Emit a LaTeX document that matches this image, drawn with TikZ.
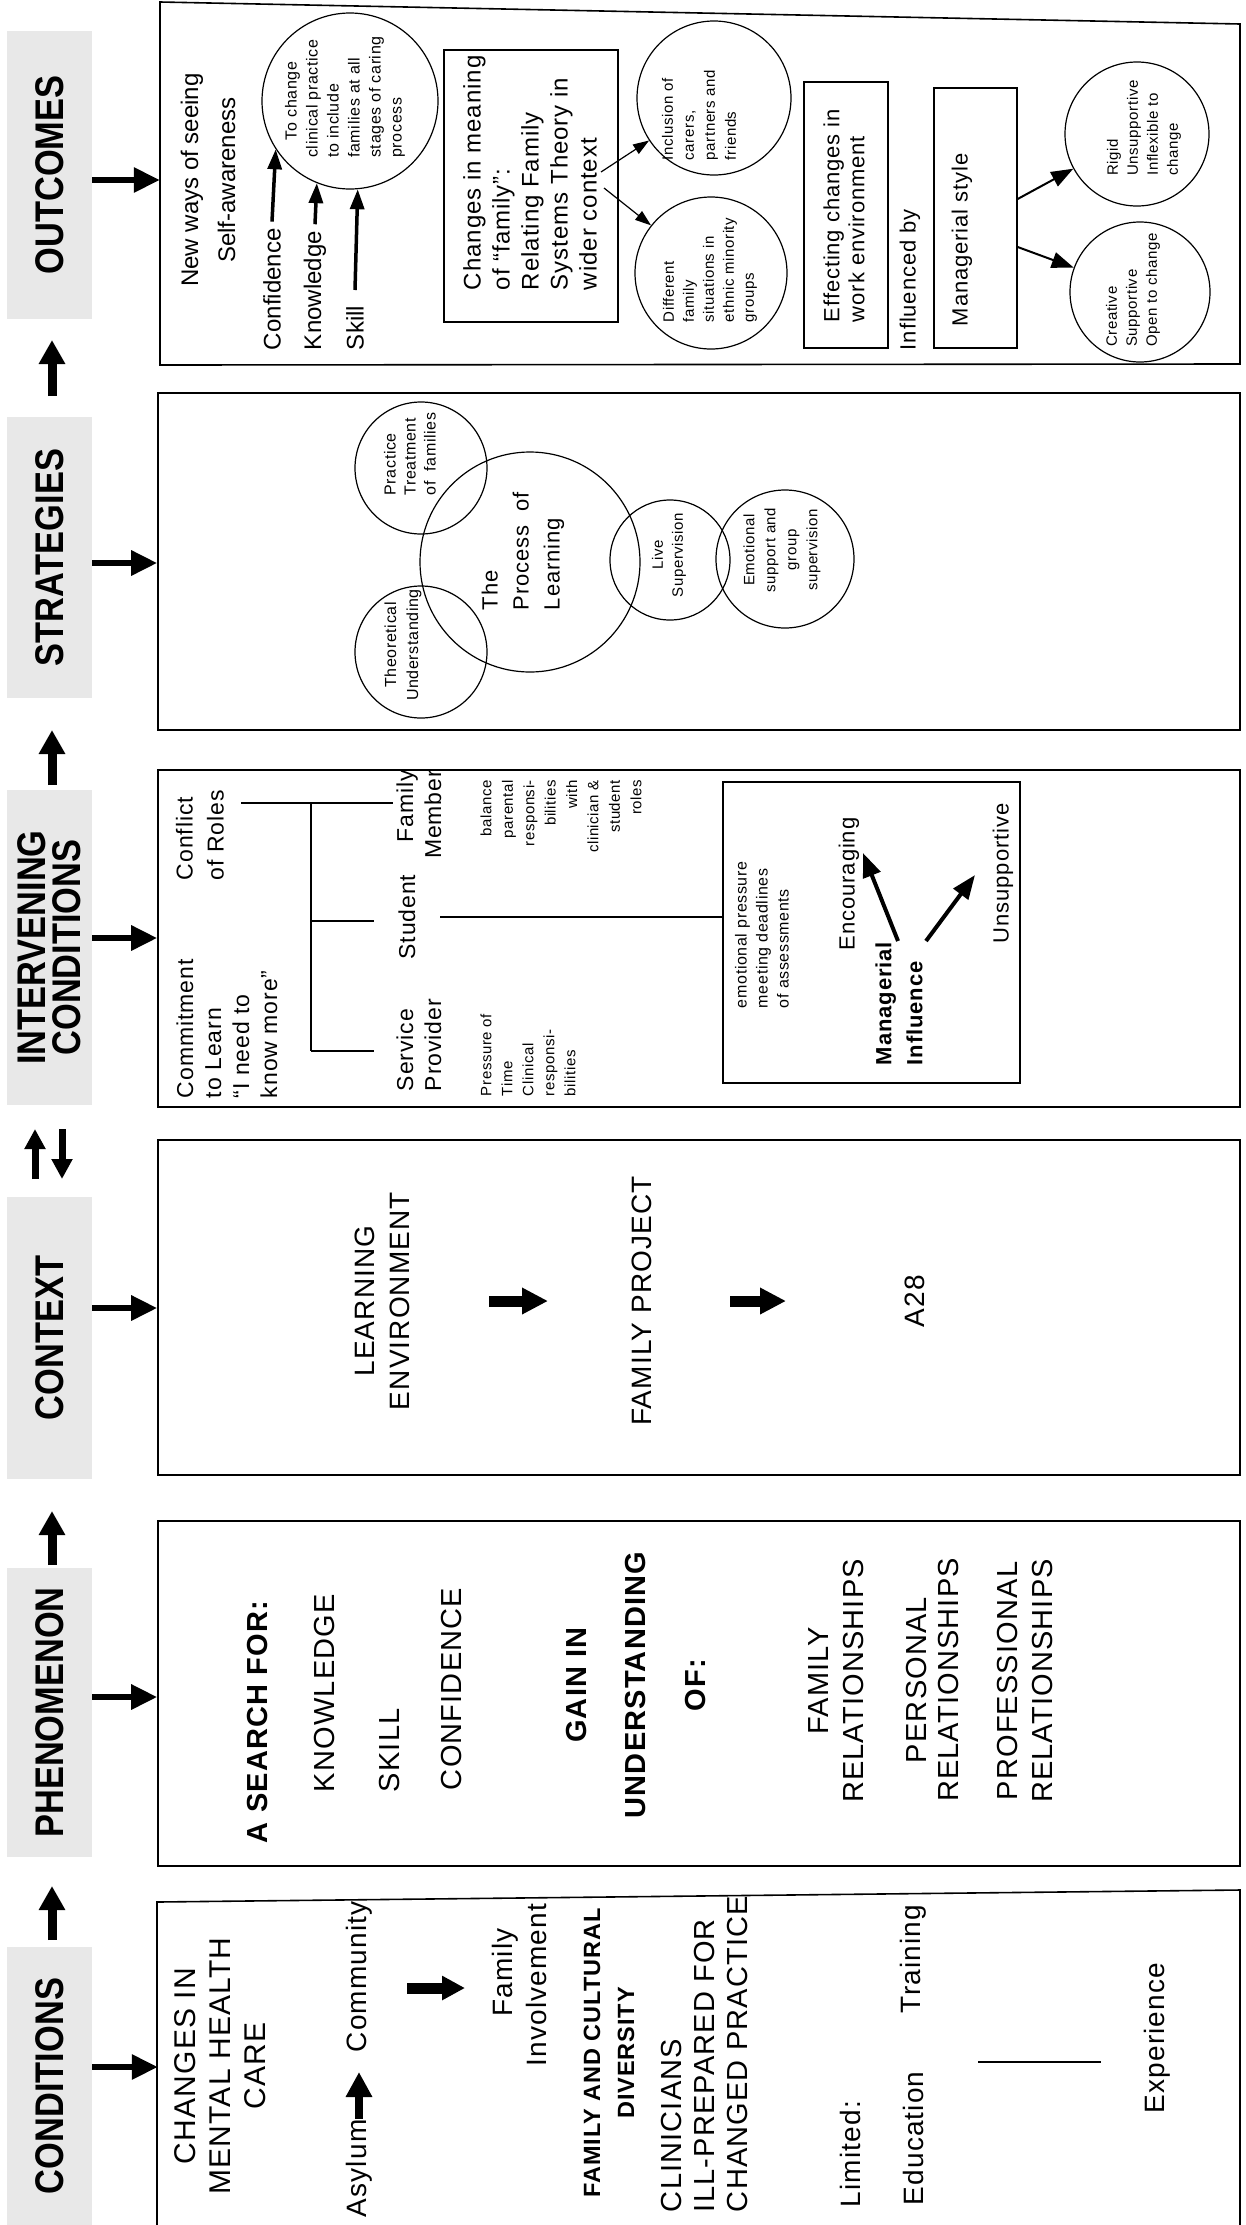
\documentclass[tikz,border=0pt]{standalone}
\usepackage{fontspec}
\setmainfont{Liberation Sans}
\newfontfamily\hdfont[FakeStretch=0.86]{Liberation Sans}
\newfontfamily\wdfont[LetterSpace=4]{Liberation Sans}
\usetikzlibrary{arrows.meta,shapes.geometric}
\newcommand\fsz[2]{\fontsize{#1pt}{#2pt}\selectfont}
\definecolor{bandgray}{gray}{0.91}
\tikzset{
  tx/.style={rotate=90, inner sep=0pt, outer sep=0pt},
  lab/.style={rotate=90, fill=bandgray, inner sep=0pt, minimum height=85pt, align=center, font={\hdfont\bfseries\fsz{40}{35}}},
  bx/.style={draw, line width=1.6pt, inner sep=0pt},
  hid/.style={draw=none, inner sep=0pt},
  ibx/.style={draw, line width=1.3pt, inner sep=0pt},
  circ/.style={circle, draw, line width=1.2pt, inner sep=0pt},
  uparr/.style={line width=9pt, -{Triangle[length=24pt,width=25pt]}},
  rarr/.style={line width=6pt, -{Triangle[length=26pt,width=24pt]}},
  karr/.style={line width=3.5pt, -{Triangle[length=20pt,width=14pt]}},
  aarr/.style={line width=8pt, -{Triangle[length=25pt,width=25pt]}},
  sarr/.style={line width=1.2pt, -{Triangle[length=16pt,width=11pt]}},
  marr/.style={line width=2pt, -{Triangle[length=22pt,width=16pt]}},
  barr/.style={line width=4pt, -{Triangle[length=24pt,width=18pt]}},
  blk/.style={line width=11pt, -{Triangle[length=26pt,width=25pt]}},
  ln/.style={line width=1.5pt},
  caps/.style={font={\wdfont\fsz{28}{35}}},
}
\begin{document}
\begin{tikzpicture}[x=1pt,y=-1pt]
\useasboundingbox (0,0) rectangle (1246,2225);
\fill[white] (0,0) rectangle (1246,2225);

% ---------------- header column ----------------
\node[lab, minimum width=288pt] (hout) at (49.5,175) {OUTCOMES};
\node[lab, minimum width=281pt] (hstr) at (49.5,557.5) {STRATEGIES};
\node[lab, minimum width=315pt] (hint) at (49.5,947.5) {INTERVENING\\CONDITIONS};
\node[lab, minimum width=282pt] (hctx) at (49.5,1338) {CONTEXT};
\node[lab, minimum width=289pt] (hphe) at (49.5,1712.5) {PHENOMENON};
\node[lab, minimum width=278pt] (hcon) at (49.5,2086) {CONDITIONS};

\coordinate (u1s) at (52,396);  \coordinate (u1e) at (52,340);
\coordinate (u2s) at (52,785);  \coordinate (u2e) at (52,730);
\coordinate (d1s) at (35,1179); \coordinate (d1e) at (35,1129);
\coordinate (d2s) at (62,1129); \coordinate (d2e) at (62,1179);
\coordinate (u3s) at (52,1565); \coordinate (u3e) at (52,1511);
\coordinate (u4s) at (52,1940); \coordinate (u4e) at (52,1886);
\draw[uparr] (u1s) -- (u1e);
\draw[uparr] (u2s) -- (u2e);
\draw[line width=7pt, -{Triangle[length=20pt,width=20pt]}] (d1s) -- (d1e);
\draw[line width=7pt, -{Triangle[length=20pt,width=20pt]}] (d2s) -- (d2e);
\draw[uparr] (u3s) -- (u3e);
\draw[uparr] (u4s) -- (u4e);

% ---------------- boxes ----------------
\node[hid, minimum width=1080pt, minimum height=361pt] (ob) at (700,184.5) {};
\draw[bx] (160,2) -- (1240,24) -- (1240,364) -- (160,365) -- cycle;
\node[bx, minimum width=1082pt, minimum height=337pt] (sb) at (699,561.5) {};
\node[bx, minimum width=1082pt, minimum height=337pt] (ib) at (699,938.5) {};
\node[bx, minimum width=1082pt, minimum height=335pt] (cb) at (699,1307.5) {};
\node[bx, minimum width=1082pt, minimum height=345pt] (pb) at (699,1693.5) {};
\node[hid, minimum width=1082pt, minimum height=340pt] (kb) at (699,2070) {};
\draw[bx] (157,2240) -- (157,1902) -- (1240,1890) -- (1240,2240);

\coordinate (r1) at (92,180);  \coordinate (r2) at (92,563);
\coordinate (r3) at (92,938);  \coordinate (r4) at (92,1308);
\coordinate (r5) at (92,1697); \coordinate (r6) at (92,2067);
\draw[rarr] (r1) -- (r1 -| ob.west);
\draw[rarr] (r2) -- (r2 -| sb.west);
\draw[rarr] (r3) -- (r3 -| ib.west);
\draw[rarr] (r4) -- (r4 -| cb.west);
\draw[rarr] (r5) -- (r5 -| pb.west);
\draw[rarr] (r6) -- (r6 -| kb.west);

% ---------------- OUTCOMES ----------------
\node[tx, font={\fsz{24}{37}}, align=center] (nw) at (208,180) {New ways of seeing\\Self-awareness};
\node[tx, font={\fsz{24}{28}}, anchor=west] (conf) at (272,350) {Confidence};
\node[tx, font={\fsz{24}{28}}, anchor=west] (know) at (315,350) {Knowledge};
\node[tx, font={\fsz{24}{28}}, anchor=west] (skill) at (355,350) {Skill};
\node[circ, minimum size=176pt] (c1) at (350,101) {};
\node[tx, font={\wdfont\fsz{16}{21}}, align=left] (c1t) at (345,97) {\hspace*{1.1em}To change\\clinical practice\\to include\\families at all\\stages of caring\\process};
\draw[karr] ([yshift=7pt]conf.east) -- (c1.213);
\draw[karr] ([yshift=7pt]know.east) -- (c1.248);
\draw[karr] ([yshift=16pt]skill.east) -- (c1.275);

\node[ibx, minimum width=174pt, minimum height=272pt] (chb) at (531,186) {};
\node[tx, font={\wdfont\fsz{24}{29}}, align=left, anchor=west] (cht) at (530,290) {Changes in meaning\\of “family”:\\Relating Family\\Systems Theory in\\wider context};
\node[circ, minimum size=154pt] (incl) at (714,98) {};
\node[tx, font={\wdfont\fsz{15}{21}}, align=left] (inclt) at (699,115) {Inclusion of\\carers,\\partners and\\friends};
\node[circ, minimum size=152pt] (diff) at (711,273) {};
\node[tx, font={\wdfont\fsz{15}{20}}, align=left] (difft) at (710,270) {Different\\family\\situations in\\ethnic minority\\groups};
\coordinate (chA) at (601,172);
\coordinate (chB) at (604,188);
\draw[sarr] (chA) -- (incl);
\draw[sarr] (chB) -- (diff);

\node[ibx, minimum width=84pt, minimum height=266pt] (efb) at (846,215) {};
\node[tx, font={\wdfont\fsz{22}{25}}, align=left, anchor=west] (eft) at (844,322) {Effecting changes in\\work environment};
\node[tx, font={\wdfont\fsz{22}{25}}, anchor=west] (inf) at (910,350) {Influenced by};
\node[ibx, minimum width=83pt, minimum height=260pt] (mbox) at (975.5,218) {};
\node[tx, font={\wdfont\fsz{22}{25}}, anchor=west] (mst) at (962,326) {Managerial style};
\node[circ, minimum size=144pt] (rig) at (1137,134) {};
\node[tx, font={\wdfont\fsz{15}{20}}, align=left] (rigt) at (1144,128) {Rigid\\Unsupportive\\Inflexible to\\change};
\node[circ, minimum size=140pt] (cre) at (1140,292) {};
\node[tx, font={\wdfont\fsz{15}{20}}, align=left] (cret) at (1133,290) {Creative\\Supportive\\Open to change};
\draw[marr] ([yshift=19pt]mbox.east) -- (rig);
\draw[marr] ([yshift=-29pt]mbox.east) -- (cre);

% ---------------- STRATEGIES ----------------
\node[circ, minimum size=132pt] (prac) at (421,468) {};
\node[circ, minimum size=132pt] (theo) at (421,652) {};
\node[circ, minimum size=220pt] (proc) at (530,562) {};
\node[circ, minimum size=120pt] (live) at (670,560) {};
\node[circ, minimum size=138pt] (emo) at (785,559) {};
\node[tx, font={\wdfont\fsz{16}{20}}, align=left] (pract) at (410,454) {Practice\\Treatment\\of\ \ families};
\node[tx, font={\wdfont\fsz{16}{22}}, align=center] (theot) at (403,645) {Theoretical\\Understanding};
\node[tx, font={\wdfont\fsz{22}{31}}, align=left, anchor=west] (proct) at (523,610) {The\\Process\ \ of\\Learning};
\node[tx, font={\wdfont\fsz{15}{20}}, align=center] (livet) at (669,555) {Live\\Supervision};
\node[tx, font={\wdfont\fsz{15}{21}}, align=center] (emot) at (782,550) {Emotional\\support and\\group\\supervision};

% ---------------- INTERVENING CONDITIONS ----------------
\node[tx, font={\wdfont\fsz{23}{28}}, align=left, anchor=west] (cmt) at (227,1098) {Commitment\\to Learn\\“I need to\\know more”};
\node[tx, font={\wdfont\fsz{23}{31}}, align=left, anchor=west] (cfl) at (200,880) {Conflict\\of Roles};
\coordinate (tA) at (241,803); \coordinate (tB) at (311,803); \coordinate (tC) at (393,803);
\coordinate (tD) at (311,921); \coordinate (tE) at (374,921);
\coordinate (tF) at (311,1051); \coordinate (tG) at (374,1051);
\draw[ln] (tA) -- (tC);
\draw[ln] (tB) -- (tF);
\draw[ln] (tD) -- (tE);
\draw[ln] (tF) -- (tG);
\node[tx, font={\wdfont\fsz{23}{28}}, align=left, anchor=west] (svc) at (419,1091) {Service\\Provider};
\node[tx, font={\wdfont\fsz{23}{28}}] (stu) at (407,917) {Student};
\node[tx, font={\wdfont\fsz{23}{28}}, align=right, anchor=east] (fam) at (419,770) {Family\\Member};
\node[tx, font={\wdfont\fsz{15}{21}}, align=left, anchor=west] (prs) at (528,1096) {Pressure of\\Time\\Clinical\\responsi-\\bilities};
\node[tx, font={\wdfont\fsz{15}{21.4}}, align=right, anchor=east] (bal) at (561,780) {balance\\parental\\responsi-\\bilities\\with\\clinician \&\\student\\roles};
\node[ibx, minimum width=297pt, minimum height=301pt] (inb) at (871.5,932.5) {};
\draw[ln, shorten <=25pt] (stu.south) -- (stu.south -| inb.west);
\node[tx, font={\wdfont\fsz{16}{21}}, align=left, anchor=west] (emp) at (762,1008) {emotional pressure\\meeting deadlines\\of assessments};
\node[tx, font={\wdfont\bfseries\fsz{22}{31}}, align=left, anchor=west] (mgi) at (899,1065) {Managerial\\Influence};
\node[tx, font={\wdfont\fsz{22}{26}}, anchor=west] (enc) at (849,950) {Encouraging};
\node[tx, font={\wdfont\fsz{22}{26}}, anchor=west] (uns) at (1003,943) {Unsupportive};
\coordinate (mgA) at (898,941); \coordinate (mgB) at (863,853);
\coordinate (mgC) at (926,941); \coordinate (mgD) at (975,875);
\draw[barr] (mgA) -- (mgB);
\draw[barr] (mgC) -- (mgD);

% ---------------- CONTEXT ----------------
\node[tx, caps, align=center] (le) at (382.5,1301) {LEARNING\\ENVIRONMENT};
\node[tx, caps] (fp) at (642,1301) {FAMILY PROJECT};
\node[tx, caps] (a28) at (915,1301) {A28};
\draw[blk, shorten <=106.5pt, shorten >=94pt] (le.center) -- (fp.center);
\draw[blk, shorten <=88pt, shorten >=129pt] (fp.center) -- (a28.center);

% ---------------- PHENOMENON ----------------
\node[tx, font={\wdfont\bfseries\fsz{29}{35}}, anchor=west] (srch) at (258,1843) {A SEARCH FOR:};
\node[tx, font={\wdfont\fsz{29}{35}}, anchor=west] (kn) at (325,1792) {KNOWLEDGE};
\node[tx, font={\wdfont\fsz{29}{35}}, anchor=west] (sk) at (390,1792) {SKILL};
\node[tx, font={\wdfont\fsz{29}{35}}, anchor=west] (cf) at (452,1790) {CONFIDENCE};
\node[tx, font={\wdfont\bfseries\fsz{29}{59.5}}, align=center] (gain) at (636,1685) {GAIN IN\\UNDERSTANDING\\OF:};
\node[tx, font={\wdfont\fsz{29}{35}}, align=center] (frel) at (836.5,1681) {FAMILY\\RELATIONSHIPS};
\node[tx, font={\wdfont\fsz{29}{32}}, align=center] (prel) at (933,1680) {PERSONAL\\RELATIONSHIPS};
\node[tx, font={\wdfont\fsz{29}{35}}, align=center] (pfrel) at (1025.5,1681) {PROFESSIONAL\\RELATIONSHIPS};

% ---------------- CONDITIONS ----------------
\node[tx, font={\wdfont\fsz{30}{35}}, align=center] (chg) at (220,2066) {CHANGES IN\\MENTAL HEALTH\\CARE};
\node[tx, font={\wdfont\fsz{28}{30}}, anchor=west] (asy) at (359,2217) {Asylum};
\node[tx, font={\wdfont\fsz{28}{30}}, anchor=west] (com) at (359,2052) {Community};
\draw[aarr, shorten <=1pt, shorten >=20pt] (asy.east) -- (com.west);
\coordinate (bkA) at (407,1988); \coordinate (bkB) at (465,1988);
\draw[blk, -{Triangle[length=23pt,width=23pt]}] (bkA) -- (bkB);
\node[tx, font={\wdfont\fsz{28}{34}}, align=center] (fi) at (519,1985) {\hspace*{0.9em}Family\\Involvement};
\node[tx, font={\wdfont\bfseries\fsz{23.5}{34}}, align=center] (fcd) at (609,2053) {FAMILY AND CULTURAL\\DIVERSITY};
\node[tx, font={\wdfont\fsz{29}{33}}, align=left, anchor=west] (cli) at (705,2212) {CLINICIANS\\ILL-PREPARED FOR\\CHANGED PRACTICE};
\node[tx, font={\wdfont\fsz{28}{30}}, anchor=west] (lim) at (850,2207) {Limited:};
\node[tx, font={\wdfont\fsz{28}{30}}, anchor=west] (edu) at (913,2205) {Education};
\node[tx, font={\wdfont\fsz{28}{30}}, anchor=west] (trn) at (913,2013) {Training};
\coordinate (lnA) at (978,2062); \coordinate (lnB) at (1101,2062);
\draw[ln] (lnA) -- (lnB);
\node[tx, font={\wdfont\fsz{28}{30}}] (expn) at (1157,2038) {Experience};
\end{tikzpicture}
\end{document}
